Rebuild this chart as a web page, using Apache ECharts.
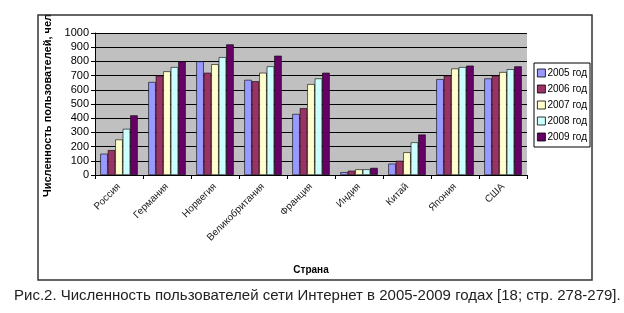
<!DOCTYPE html>
<html><head><meta charset="utf-8">
<script src="https://cdn.jsdelivr.net/npm/echarts@6/dist/echarts.min.js"></script>
<style>html,body{margin:0;padding:0;background:#fff}#c{width:624px;height:313px}</style>
</head><body><div id="c"></div>
<script>
const categories = ['Россия','Германия','Норвегия','Великобритания','Франция','Индия','Китай','Япония','США'];
const years = ['2005 год','2006 год','2007 год','2008 год','2009 год'];
const v2005 = [150, 655, 800, 670, 430, 20, 80, 675, 680];
const v2006 = [175, 700, 720, 660, 470, 30, 100, 700, 700];
const v2007 = [250, 730, 780, 720, 640, 40, 160, 750, 725];
const v2008 = [325, 760, 830, 765, 680, 40, 230, 760, 745];
const v2009 = [420, 800, 920, 840, 720, 50, 285, 770, 765];
const yTicks = [0,100,200,300,400,500,600,700,800,900,1000];
const colors = ['#9999FF','#993366','#FFFFCC','#CCFFFF','#660066'];
const seriesData = [v2005, v2006, v2007, v2008, v2009];

const chart = echarts.init(document.getElementById('c'));
const font = 'Liberation Sans, Arial, sans-serif';
chart.setOption({
  animation: false,
  textStyle: { fontFamily: font },
  title: {
    text: 'Рис.2. Численность пользователей сети Интернет в 2005-2009 годах [18; стр. 278-279].',
    left: 9, top: 283,
    textStyle: { fontFamily: font, fontSize: 15, fontWeight: 'normal', color: '#222' }
  },
  graphic: [{
    type: 'rect', shape: { x: 40, y: 0, width: 40, height: 14 },
    style: { fill: '#fff' }, z: 99
  }, {
    type: 'rect', shape: { x: 38, y: 15, width: 554, height: 265 },
    style: { fill: 'none', stroke: '#333', lineWidth: 1.5 }, z: 100
  }],
  legend: {
    orient: 'vertical', left: 534, top: 63,
    data: years,
    itemWidth: 8, itemHeight: 8, itemGap: 6, icon: 'rect',
    backgroundColor: '#fff', borderColor: '#000', borderWidth: 1,
    padding: [5, 3, 5, 3],
    textStyle: { fontFamily: font, fontSize: 10, color: '#000', padding: [0, 0, 0, -3] },
    itemStyle: { borderColor: '#000', borderWidth: 0.8 }
  },
  grid: { left: 95, right: 97, top: 33, bottom: 138, show: true, backgroundColor: '#C0C0C0', borderWidth: 0 },
  xAxis: {
    type: 'category', data: categories,
    name: 'Страна', nameLocation: 'middle', nameGap: 90,
    nameTextStyle: { fontFamily: font, fontSize: 10, fontWeight: 'bold', color: '#000' },
    axisLine: { lineStyle: { color: '#000', width: 1 } },
    axisTick: { show: true, alignWithLabel: false, length: 4, lineStyle: { color: '#000' } },
    axisLabel: { rotate: 45, fontSize: 10, color: '#222', margin: 10, fontFamily: font }
  },
  yAxis: {
    type: 'value', min: 0, max: 1000, interval: 100,
    name: 'Численность пользователей, чел.', nameLocation: 'middle', nameGap: 28,
    nameTextStyle: { fontFamily: font, fontSize: 11, fontWeight: 'bold', color: '#000' },
    axisLine: { show: true, lineStyle: { color: '#000', width: 1 } },
    axisTick: { show: true, length: 4, lineStyle: { color: '#000' } },
    splitLine: { show: true, lineStyle: { color: '#000', width: 1 } },
    axisLabel: { fontSize: 11, color: '#000', margin: 6, fontFamily: font,
      formatter: v => yTicks.includes(v) ? String(v) : '' }
  },
  series: seriesData.map((d, i) => ({
    name: years[i], type: 'bar', data: d,
    barGap: '0%', barCategoryGap: '22%',
    itemStyle: { color: colors[i], borderColor: '#000', borderWidth: 0.6 }
  }))
});
</script></body></html>
